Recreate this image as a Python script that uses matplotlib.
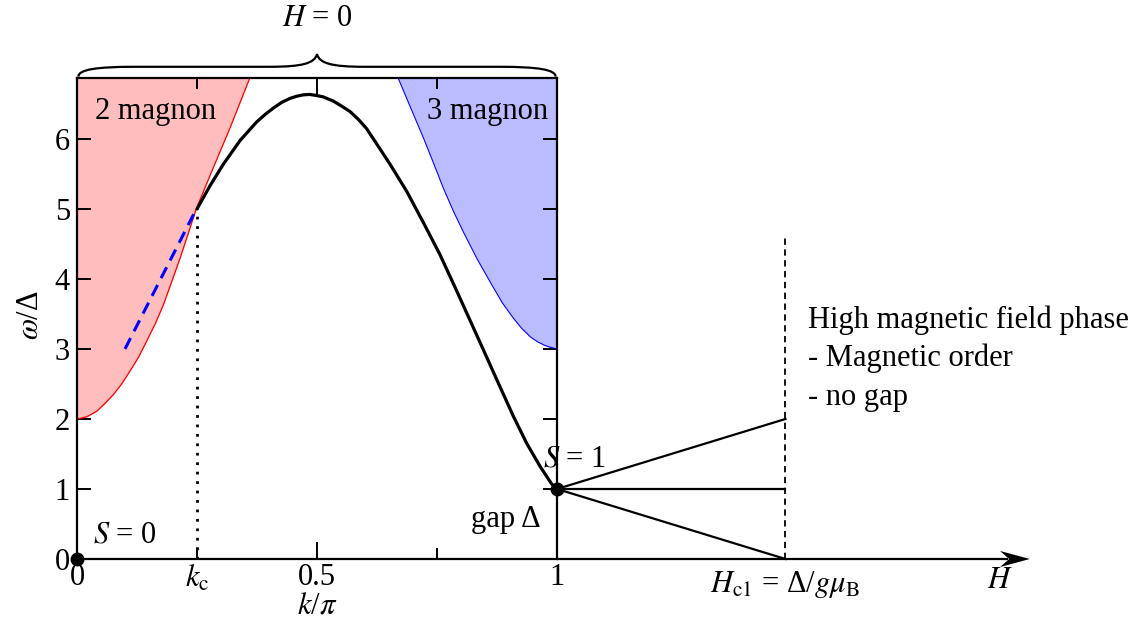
import matplotlib
matplotlib.use("Agg")
import matplotlib.pyplot as plt
from matplotlib.path import Path
from matplotlib.patches import PathPatch, Polygon

plt.rcParams['font.family'] = ['Liberation Serif', 'DejaVu Serif']
plt.rcParams['mathtext.fontset'] = 'stix'

# ---- data ----
k_disp = [0.25, 0.277, 0.305, 0.340, 0.374, 0.392, 0.409, 0.426, 0.444, 0.458, 0.472, 0.485,
          0.499, 0.513, 0.534, 0.551, 0.569, 0.586, 0.603, 0.631, 0.652, 0.687, 0.722,
          0.756, 0.791, 0.826, 0.857, 0.874, 0.909, 0.937, 0.965, 0.989, 1.0]
w_disp = [5.0, 5.33, 5.64, 5.98, 6.24, 6.35, 6.44, 6.52, 6.58, 6.61, 6.63, 6.635,
          6.62, 6.60, 6.54, 6.47, 6.39, 6.28, 6.15, 5.86, 5.64, 5.25, 4.80,
          4.35, 3.83, 3.30, 2.83, 2.57, 2.04, 1.65, 1.32, 1.07, 1.0]

k_2m = [0.0, 0.02, 0.041, 0.058, 0.076, 0.093, 0.110, 0.128, 0.145, 0.163, 0.180, 0.215, 0.249, 0.284, 0.319, 0.360]
w_2m = [2.0, 2.03, 2.11, 2.22, 2.35, 2.50, 2.68, 2.88, 3.11, 3.36, 3.63, 4.30, 5.01, 5.59, 6.16, 6.87]

k_3m = [0.669, 0.696, 0.722, 0.743, 0.763, 0.784, 0.805, 0.834, 0.863, 0.886, 0.909, 0.927, 0.945, 0.960, 0.975, 0.988, 1.0]
w_3m = [6.87, 6.43, 6.01, 5.65, 5.30, 4.97, 4.67, 4.28, 3.93, 3.66, 3.44, 3.29, 3.17, 3.10, 3.05, 3.02, 3.0]

k_lin = [0.10, 0.245]
w_lin = [3.0, 4.95]

k_c = 0.25
w_c = 5.0
H_c1 = 1.476
zeeman_end = [2.0, 1.0, 0.0]
H_end = 1.985
yticks = [0, 1, 2, 3, 4, 5, 6]

# ---- figure ----
W, Hpx = 1136, 622
fig = plt.figure(figsize=(W / 100, Hpx / 100), dpi=100)
ax = fig.add_axes([77 / W, 1 - 559 / Hpx, 480 / W, (559 - 78) / Hpx])
ymax = 6.87
ax.set_xlim(0, 1)
ax.set_ylim(0, ymax)

fs = 22
red_fill = '#ffbdbd'
blue_fill = '#bbbbff'

ax.fill_between(k_2m, w_2m, ymax, color=red_fill, lw=0, zorder=1)
ax.plot(k_2m, w_2m, color='#ff0000', lw=0.9, zorder=2)
ax.fill_between(k_3m, w_3m, ymax, color=blue_fill, lw=0, zorder=1)
ax.plot(k_3m, w_3m, color='#0000ff', lw=0.8, zorder=2)

ax.plot(k_lin, w_lin, color='#0000ff', lw=2.2, ls=(0, (4, 2.5)), zorder=3)
ax.plot(k_disp, w_disp, color='k', lw=2.3, zorder=4, solid_capstyle='round',
        solid_joinstyle='round')
ax.plot([k_c, k_c], [0, w_c], color='k', lw=2.0, ls=(0, (1, 2.4)), zorder=3)

# spines and ticks
for s in ax.spines.values():
    s.set_linewidth(1.6)
ax.set_xticks([0, 0.5, 1], ['0', '0.5', '1'])
ax.set_xticks([0.25, 0.75], ['$k_{\\mathrm{c}}$', ''], minor=True)
ax.set_yticks(yticks, [str(v) for v in yticks])
ax.tick_params(axis='both', which='both', direction='in', labelsize=fs, width=1.4,
               top=True, right=True)
ax.tick_params(axis='x', which='major', length=12, pad=3)
ax.tick_params(axis='x', which='minor', length=8, pad=3)
ax.tick_params(axis='y', which='major', length=10, pad=5)

# dots
ax.plot([0], [0], 'o', color='k', ms=9, clip_on=False, zorder=6)
ax.plot([1], [1], 'o', color='k', ms=9, clip_on=False, zorder=6)

# H axis and Zeeman splitting
ax.plot([1, 1.94], [0, 0], color='k', lw=1.6, clip_on=False, solid_capstyle='butt')
arrow = Polygon([[H_end, 0], [1.923, 0.115], [1.942, 0], [1.923, -0.115]], closed=True,
                color='k', clip_on=False, lw=0)
ax.add_patch(arrow)
for w_end in zeeman_end:
    ax.plot([1, H_c1], [1, w_end], color='k', lw=1.6, clip_on=False)
ax.plot([H_c1, H_c1], [0, 4.63], color='k', lw=1.3, ls=(0, (3.5, 2.5)), clip_on=False)

# brace above the plot
bv = [(0.003, 6.89), (0.003, 6.99), (0.04, 7.03), (0.12, 7.03),
      (0.40, 7.03),
      (0.47, 7.03), (0.495, 7.08), (0.5, 7.21),
      (0.505, 7.08), (0.53, 7.03), (0.60, 7.03),
      (0.88, 7.03),
      (0.96, 7.03), (0.997, 6.99), (0.997, 6.89)]
bc = [Path.MOVETO, Path.CURVE4, Path.CURVE4, Path.CURVE4,
      Path.LINETO,
      Path.CURVE4, Path.CURVE4, Path.CURVE4,
      Path.CURVE4, Path.CURVE4, Path.CURVE4,
      Path.LINETO,
      Path.CURVE4, Path.CURVE4, Path.CURVE4]
ax.add_patch(PathPatch(Path(bv, bc), fc='none', ec='k', lw=1.6, clip_on=False))

# texts
ax.text(0.5, 7.72, '$H$ = 0', ha='center', va='center', fontsize=fs, clip_on=False)
ax.text(0.0375, 6.39, '2 magnon', ha='left', va='center', fontsize=fs)
ax.text(0.981, 6.39, '3 magnon', ha='right', va='center', fontsize=fs)
ax.text(0.033, 0.34, '$S$ = 0', ha='left', va='center', fontsize=fs)
ax.text(0.965, 0.56, 'gap Δ', ha='right', va='center', fontsize=fs)
ax.text(0.971, 1.43, '$S$ = 1', ha='left', va='center', fontsize=fs, clip_on=False)
ax.text(H_c1, -0.37, '$H_{\\mathrm{c1}}$ = Δ/$g\\mu_{\\mathrm{B}}$', ha='center', va='center',
        fontsize=fs, clip_on=False)
ax.text(1.923, -0.3, '$H$', ha='center', va='center', fontsize=fs, clip_on=False)
ax.text(1.523, 3.41, 'High magnetic field phase', ha='left', va='center', fontsize=fs, clip_on=False)
ax.text(1.523, 2.87, '- Magnetic order', ha='left', va='center', fontsize=fs, clip_on=False)
ax.text(1.523, 2.31, '- no gap', ha='left', va='center', fontsize=fs, clip_on=False)

fig.text(30 / W, 1 - 315 / Hpx, '$\\omega$/Δ', rotation=90, ha='center', va='center', fontsize=fs)
fig.text(317 / W, 1 - 620 / Hpx, '$k$/$\\pi$', ha='center', va='bottom', fontsize=fs)

fig.savefig('out.png', dpi=100)
